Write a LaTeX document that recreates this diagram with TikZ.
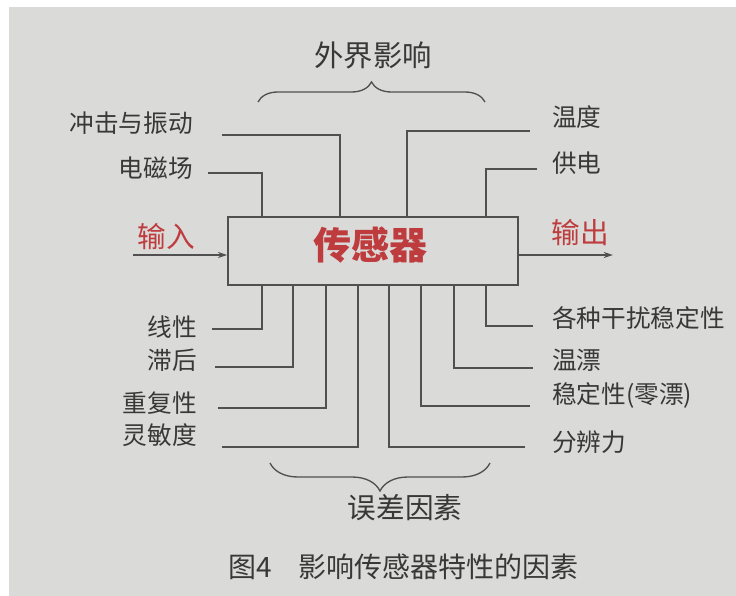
\documentclass[tikz,border=0pt]{standalone}
\usepackage{fontspec}
\newfontfamily\cjk{Noto Sans CJK SC}
\usetikzlibrary{decorations.pathreplacing,arrows.meta}
\definecolor{bg}{HTML}{DADAD9}
\definecolor{ink}{HTML}{383838}
\definecolor{wirec}{HTML}{505050}
\definecolor{redtxt}{HTML}{BE3C3E}
\begin{document}
\begin{tikzpicture}[x=0.75pt,y=-0.75pt,
  lbl/.style={font=\cjk\fontsize{18.5}{20}\selectfont, text=ink, inner sep=0pt},
  redlbl/.style={font=\cjk\fontsize{21.5}{23}\selectfont, text=redtxt, inner sep=0pt},
  biglbl/.style={font=\cjk\fontsize{21.5}{23}\selectfont, text=ink, inner sep=0pt},
  wire/.style={draw=wirec, line width=1.1pt},
  arr/.style={wire, -{Stealth[length=7pt,width=4.5pt]}},
  brc/.style={draw=wirec, line width=1pt, decorate}]
\useasboundingbox (0,0) rectangle (736,596);
\fill[white] (0,0) rectangle (736,596);
\fill[bg] (9,7) rectangle (736,596);

% main box
\node[draw=wirec, line width=1.1pt, minimum width=217.5pt, minimum height=51pt, inner sep=0pt] (box) at (373,251) {};
\node[font=\cjk\bfseries\fontsize{28.5}{30}\selectfont, text=redtxt, inner sep=0pt] (title) at (370,245) {传感器};

% input / output
\node[redlbl] (inlbl) at (166,237) {输入};
\node[redlbl] (outlbl) at (580,233) {输出};
\coordinate (in0) at (133,255);
\coordinate (out1) at (613,255);
\draw[arr] (in0) -- (in0 -| box.west);
\draw[arr] (box.east |- out1) -- (out1);

% external influences
\node[lbl, anchor=east] (l1) at (193,123) {冲击与振动};
\node[lbl, anchor=east] (l2) at (193,168) {电磁场};
\node[lbl, anchor=west] (r1) at (552,117) {温度};
\node[lbl, anchor=west] (r2) at (552,163) {供电};

\coordinate (a1) at (222,135); \coordinate (a1k) at (340,135);
\coordinate (a2) at (208,173); \coordinate (a2k) at (262,173);
\coordinate (c1) at (530,131); \coordinate (c1k) at (407,131);
\coordinate (c2) at (537,169); \coordinate (c2k) at (486,169);
\draw[wire] (a1) -- (a1k) -- (a1k |- box.north);
\draw[wire] (a2) -- (a2k) -- (a2k |- box.north);
\draw[wire] (c1) -- (c1k) -- (c1k |- box.north);
\draw[wire] (c2) -- (c2k) -- (c2k |- box.north);

% error factors
\node[lbl, anchor=east] (b1) at (197,327) {线性};
\node[lbl, anchor=east] (b2) at (197,360) {滞后};
\node[lbl, anchor=east] (b3) at (197,403) {重复性};
\node[lbl, anchor=east] (b4) at (197,435) {灵敏度};
\node[lbl, anchor=west] (e1) at (552,318) {各种干扰稳定性};
\node[lbl, anchor=west] (e2) at (552,360) {温漂};
\node[lbl, anchor=west] (e3) at (552,395) {稳定性(零漂)};
\node[lbl, anchor=west] (e4) at (552,442) {分辨力};

\coordinate (d1) at (212,329); \coordinate (d1k) at (262,329);
\coordinate (d2) at (215,367); \coordinate (d2k) at (293,367);
\coordinate (d3) at (218,408); \coordinate (d3k) at (326,408);
\coordinate (d4) at (222,447); \coordinate (d4k) at (358,447);
\coordinate (f1) at (533,326); \coordinate (f1k) at (486,326);
\coordinate (f2) at (533,368); \coordinate (f2k) at (454,368);
\coordinate (f3) at (530,406); \coordinate (f3k) at (421,406);
\coordinate (f4) at (525,447); \coordinate (f4k) at (389,447);
\foreach \p in {d1,d2,d3,d4,f1,f2,f3,f4}
  \draw[wire] (\p) -- (\p k) -- (\p k |- box.south);

% braces
\draw[brc, decoration={brace, amplitude=15pt}] (258,102) -- (485,102);
\node[biglbl, font=\cjk\fontsize{22}{24}\selectfont] (ext) at (373,55) {外界影响};
\draw[brc, decoration={brace, amplitude=21pt}] (490,463) -- (270,463);
\node[biglbl] (err) at (405,508) {误差因素};

% caption
\node[font=\cjk\fontsize{21}{23}\selectfont, text=ink, inner sep=0pt, anchor=west] (cap1) at (228,567) {图4};
\node[font=\cjk\fontsize{21}{23}\selectfont, text=ink, inner sep=0pt, anchor=west] (cap2) at (298,567) {影响传感器特性的因素};
\end{tikzpicture}
\end{document}
